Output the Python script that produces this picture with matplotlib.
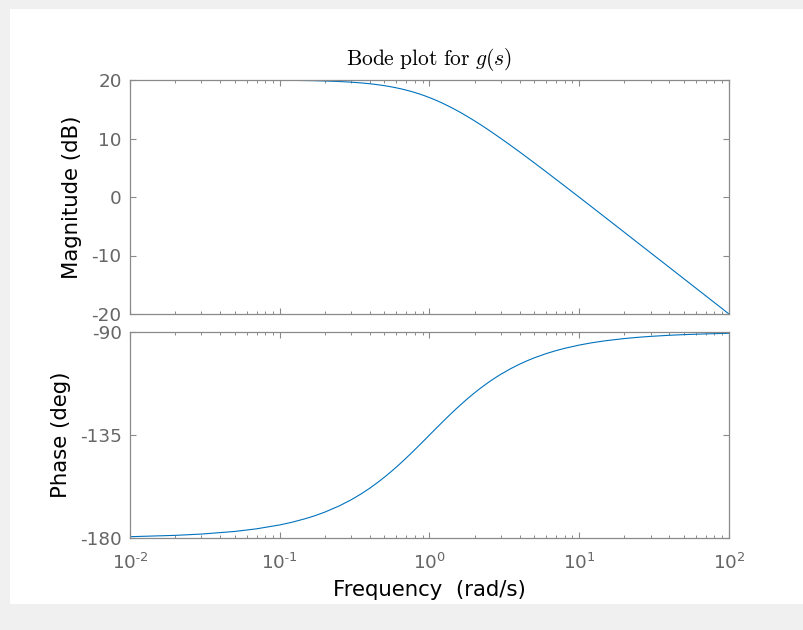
import numpy as np
import matplotlib.pyplot as plt
from matplotlib.patches import Rectangle

# frequencies (rad/s) and values
freq = [0.01, 0.02, 0.03, 0.05, 0.07, 0.1, 0.12, 0.15, 0.17, 0.2, 0.25, 0.3,
        0.35, 0.4, 0.45, 0.5, 0.55, 0.6, 0.65, 0.7, 0.75, 0.8, 0.85, 0.9,
        0.95, 1.0, 1.1, 1.2, 1.25, 1.35, 1.5, 1.6, 1.75, 1.9, 2.0, 2.2, 2.5,
        2.7, 3.0, 3.5, 4.0, 4.5, 5.0, 6.0, 7.0, 8.0, 10.0, 12.0, 15.0, 20.0,
        25.0, 30.0, 40.0, 50.0, 70.0, 100.0]
mag_db = [20.00, 20.00, 20.00, 19.99, 19.98, 19.96, 19.94, 19.90, 19.88,
          19.83, 19.74, 19.63, 19.50, 19.36, 19.20, 19.03, 18.85, 18.66,
          18.47, 18.27, 18.06, 17.85, 17.64, 17.42, 17.21, 16.99, 16.56,
          16.13, 15.91, 15.49, 14.88, 14.49, 13.91, 13.36, 13.01, 12.34,
          11.40, 10.81, 10.00, 8.78, 7.70, 6.73, 5.85, 4.32, 3.01, 1.87,
          -0.04, -1.61, -3.54, -6.03, -7.97, -9.55, -12.04, -13.98, -16.90,
          -20.00]
phase_deg = [-179.43, -178.85, -178.28, -177.14, -175.99, -174.29, -173.16,
             -171.47, -170.35, -168.69, -165.96, -163.30, -160.71, -158.20,
             -155.77, -153.43, -151.19, -149.04, -146.98, -145.01, -143.13,
             -141.34, -139.64, -138.01, -136.47, -135.00, -132.27, -129.81,
             -128.66, -126.53, -123.69, -122.01, -119.74, -117.76, -116.57,
             -114.44, -111.80, -110.32, -108.43, -105.95, -104.04, -102.53,
             -101.31, -99.46, -98.13, -97.13, -95.71, -94.76, -93.81, -92.86,
             -92.29, -91.91, -91.43, -91.15, -90.82, -90.57]

mag_ticks = [-20, -10, 0, 10, 20]
phase_ticks = [-180, -135, -90]
freq_ticks = [0.01, 0.1, 1, 10, 100]
freq_ticklabels = [r'$10^{-2}$', r'$10^{-1}$', r'$10^{0}$', r'$10^{1}$', r'$10^{2}$']

line_col = '#0072BD'
axis_col = '#8a8a8a'
text_col = '#666666'

plt.rcParams['mathtext.fontset'] = 'cm'

fig = plt.figure(figsize=(8.04, 6.30), dpi=100, facecolor='#f0f0f0')
# white figure area inside the grey window border
fig.patches.append(Rectangle((10/804, 26/630), 1 - 10/804, 1 - 35/630,
                             transform=fig.transFigure, facecolor='white',
                             edgecolor='none', zorder=-1))

ax1 = fig.add_axes([130/804, 1 - 314/630, 599/804, 234/630])
ax2 = fig.add_axes([130/804, 1 - 538/630, 599/804, 206/630])

ax1.semilogx(freq, mag_db, color=line_col, lw=0.8)
ax2.semilogx(freq, phase_deg, color=line_col, lw=0.8)

ax1.set_ylim(-20, 20)
ax1.set_yticks(mag_ticks)
ax1.set_yticklabels([str(t) for t in mag_ticks])
ax2.set_ylim(-180, -90)
ax2.set_yticks(phase_ticks)
ax2.set_yticklabels([str(t) for t in phase_ticks])

for ax in (ax1, ax2):
    ax.set_xlim(0.01, 100)
    ax.set_xticks(freq_ticks)
    ax.set_facecolor('none')
    for s in ax.spines.values():
        s.set_color(axis_col)
        s.set_linewidth(0.9)
    ax.tick_params(which='both', direction='in', top=True, right=True,
                   colors=axis_col, labelcolor=text_col, labelsize=13.2)
    ax.tick_params(which='major', length=4.3, width=0.8)
    ax.tick_params(which='minor', length=2.2, width=0.7)
    ax.tick_params(axis='y', which='major', pad=6)

# mathdefault keeps the sans font, hyphen-like minus in exponents
ax2.set_xticklabels([s.replace('$10', r'$\mathdefault{10').replace('}$', '}}$')
                     .replace('{-', '{\\text{-}') for s in freq_ticklabels])
ax1.tick_params(axis='x', which='both', labelbottom=False)
ax2.tick_params(axis='x', which='major', pad=11)

ax1.set_ylabel('Magnitude (dB)', fontsize=15.3, color='black', labelpad=7)
ax2.set_ylabel('Phase (deg)', fontsize=15.3, color='black', labelpad=6)
ax2.set_xlabel('Frequency  (rad/s)', fontsize=15.3, color='black', labelpad=5)
ax1.set_title(r'$\mathrm{Bode\ plot\ for\ }g(s)$', fontsize=15.5, pad=11)

plt.savefig('out.png', dpi=100, facecolor=fig.get_facecolor())
